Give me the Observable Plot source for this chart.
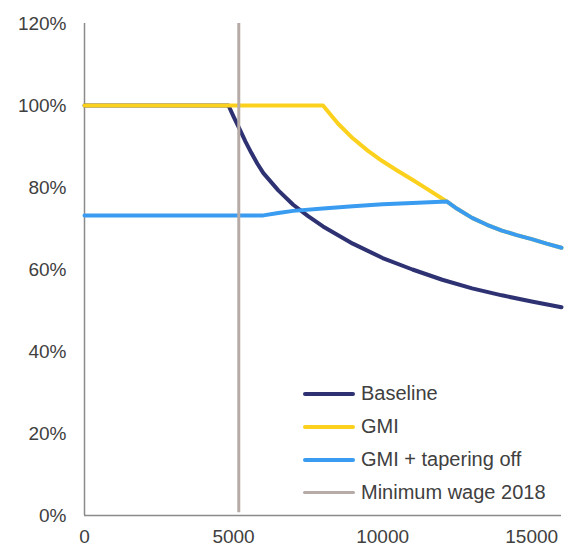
<!DOCTYPE html>
<html><head><meta charset="utf-8">
<script src="https://cdn.jsdelivr.net/npm/d3@7"></script>
<script src="https://cdn.jsdelivr.net/npm/@observablehq/plot@0.6"></script>
<style>
body{margin:0;background:#fff;}
#wrap{position:relative;width:566px;height:548px;font-family:"Liberation Sans",Arial,sans-serif;}
#legend{position:absolute;left:303px;top:377px;}
.row{display:flex;align-items:center;height:33px;font-size:20px;color:#404040;white-space:nowrap;}
.sw{width:52px;margin-right:6px;border-radius:2px;}
</style></head><body><div id="wrap"><div id="legend"></div></div>
<script>
const seriesNames = ["Baseline", "GMI", "GMI + tapering off", "Minimum wage 2018"];
const seriesColors = ["#2e3272", "#fcd11e", "#399cf0", "#b6aba6"];
const seriesWidths = [4, 4, 4, 3];

const baselineIncome = [0, 4830, 5000, 5200, 5400, 5600, 5800, 6000, 6500, 7000, 7500, 8000, 9000, 10000, 11000, 12000, 13000, 14000, 15000, 16000];
const baselineRate   = [100, 100, 97.3, 94.3, 91.2, 88.4, 85.8, 83.5, 79.3, 75.8, 73, 70.5, 66.3, 62.8, 60, 57.5, 55.4, 53.7, 52.2, 50.8];

const gmiIncome = [0, 8000, 8250, 8500, 9000, 9500, 10000, 10500, 11000, 11500, 12150, 12500, 13000, 13500, 14000, 14500, 15000, 15500, 16000];
const gmiRate   = [100, 100, 97.8, 95.6, 92, 89, 86.4, 84.1, 81.9, 79.6, 76.6, 74.8, 72.6, 70.9, 69.5, 68.4, 67.4, 66.3, 65.3];

const taperIncome = [0, 6000, 6500, 7000, 8000, 9000, 10000, 11000, 12150, 12500, 13000, 13500, 14000, 14500, 15000, 15500, 16000];
const taperRate   = [73.2, 73.2, 73.8, 74.3, 74.9, 75.4, 75.9, 76.2, 76.6, 74.8, 72.6, 70.9, 69.5, 68.4, 67.4, 66.3, 65.3];

const minWage = 5175;

const xTicks = [0, 5000, 10000, 15000];
const yTicks = [0, 20, 40, 60, 80, 100, 120];

const toRows = (xs, ys) => xs.map((x, i) => ({x, y: ys[i]}));

const chart = Plot.plot({
  width: 566, height: 548,
  marginLeft: 84, marginRight: 5, marginTop: 23, marginBottom: 33,
  style: {fontFamily: "Liberation Sans, Arial, sans-serif", fontSize: "19px", color: "#404040", background: "#fff"},
  x: {domain: [0, 16000], ticks: xTicks, tickSize: 0, tickPadding: 14, label: null, tickFormat: d => String(d)},
  y: {domain: [0, 120], ticks: yTicks, tickSize: 0, tickPadding: 18, label: null, tickFormat: d => d + "%"},
  marks: [
    Plot.ruleX([0], {stroke: "#8a8a8a", strokeWidth: 1.5}),
    Plot.ruleY([0], {stroke: "#8a8a8a", strokeWidth: 1.5}),
    Plot.line(toRows(baselineIncome, baselineRate), {x: "x", y: "y", stroke: seriesColors[0], strokeWidth: seriesWidths[0]}),
    Plot.line(toRows(gmiIncome, gmiRate), {x: "x", y: "y", stroke: seriesColors[1], strokeWidth: seriesWidths[1]}),
    Plot.line(toRows(taperIncome, taperRate), {x: "x", y: "y", stroke: seriesColors[2], strokeWidth: seriesWidths[2]}),
    Plot.ruleX([minWage], {y1: 0.7, y2: 120, stroke: seriesColors[3], strokeWidth: seriesWidths[3]})
  ]
});
const wrap = document.getElementById("wrap");
wrap.insertBefore(chart, wrap.firstChild);

const legend = document.getElementById("legend");
seriesNames.forEach((name, i) => {
  const row = document.createElement("div");
  row.className = "row";
  const sw = document.createElement("span");
  sw.className = "sw";
  sw.style.height = seriesWidths[i] + "px";
  sw.style.background = seriesColors[i];
  const t = document.createElement("span");
  t.textContent = name;
  row.appendChild(sw); row.appendChild(t);
  legend.appendChild(row);
});
</script></body></html>
